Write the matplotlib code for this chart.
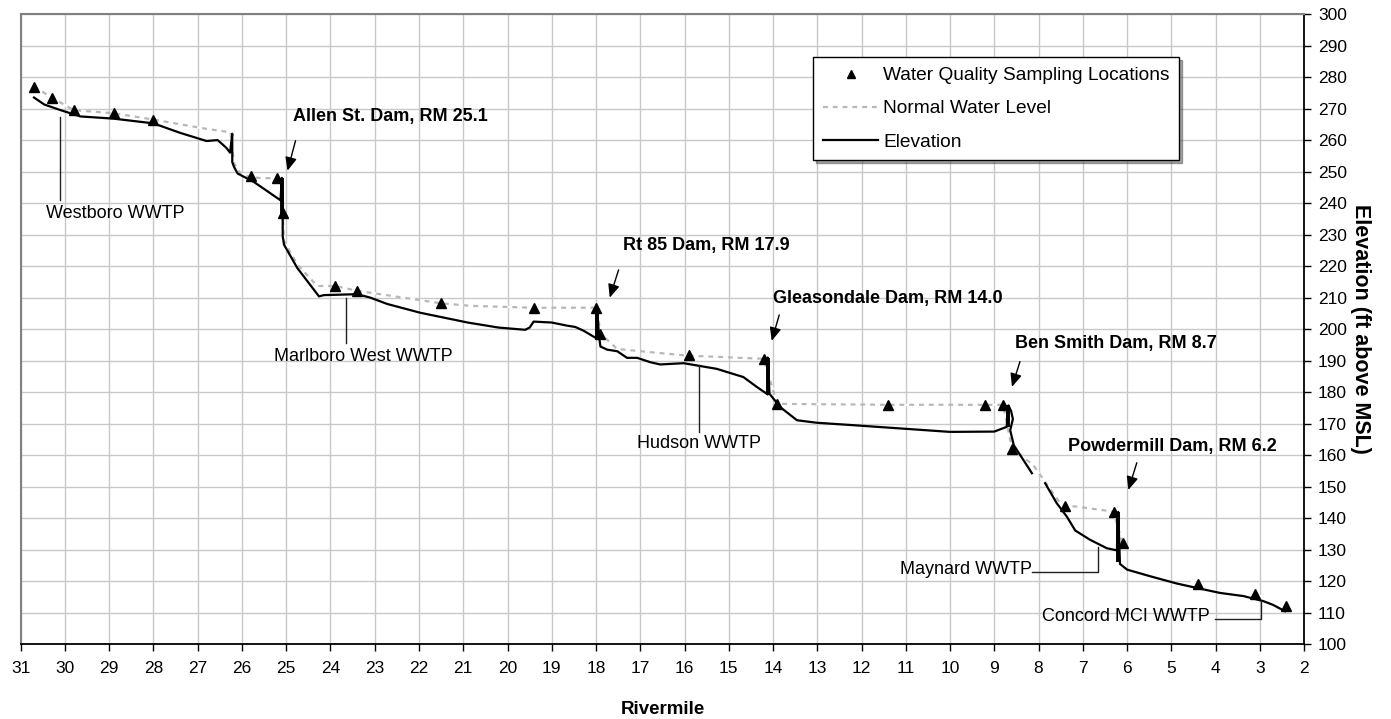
import numpy as np
import matplotlib
matplotlib.use("Agg")
import matplotlib.pyplot as plt

plt.rcParams['font.family'] = ['Liberation Sans', 'DejaVu Sans']

# sampling locations (rivermile, elevation ft)
sample_rm = [30.7, 30.3, 29.8, 28.9, 28.0, 25.8, 25.2, 25.08, 23.9, 23.4, 21.5, 19.4, 18.0,
             17.9, 15.9, 14.2, 13.9, 11.4, 9.2, 8.8, 8.6, 7.4, 6.3, 6.1, 4.4, 3.1, 2.4]
sample_el = [277, 273.5, 269.5, 268.5, 266.5, 248.5, 248, 236.8, 213.8, 212.2, 208.4, 206.8, 206.8,
             198.6, 191.8, 190.6, 176.3, 176, 175.8, 175.8, 162, 144, 142, 132.2, 119, 116, 112]

# normal water level (upper reach drawn grey, lowest reach nearly hidden)
nwl_rm = [30.7, 30.3, 29.8, 28.9, 28.0, 26.78, 26.26, 26.18, 26.03, 25.8, 25.2, 25.1, 25.08, 25.05,
          24.75, 24.3, 23.9, 23.4, 21.5, 20.84, 19.41, 17.98, 17.9, 17.52, 16.77, 15.94, 14.21,
          13.91, 11.4, 9.2, 8.8, 8.64, 8.59, 8.12, 7.78, 7.51, 7.4, 7.14, 6.31, 6.1]
nwl_el = [277, 273.5, 269.5, 268.5, 266.5, 263.5, 262.5, 252.6, 249.4, 248.1, 247.8, 248, 236.8, 228,
          220.5, 213.7, 213.7, 212.2, 208.2, 207.4, 206.8, 206.8, 198.6, 193.7, 192.7, 191.6, 190.6,
          176.3, 176, 176, 176, 164.8, 162, 156.9, 150.1, 144.8, 144, 143.7, 142.1, 132.3]
nwl_low_rm = [6.1, 4.4, 3.1, 2.4]
nwl_low_el = [132.3, 119, 116, 112]

# river bed elevation
elev_rm = [30.70, 30.47, 30.1, 29.65, 28.9, 28.0, 27.4, 26.8, 26.55, 26.35, 26.27, 26.22, 26.22,
           26.18, 26.1, 25.73, 25.13, 25.1, 25.08, 25.08, 25.05, 24.75, 24.26, 24.15, 23.4, 23.1,
           22.72, 21.97, 20.9, 20.2, 19.6, 19.5, 19.41, 19.0, 18.65, 18.47, 18.28, 17.98, 17.98,
           17.93, 17.9, 17.75, 17.52, 17.3, 17.07, 16.77, 16.55, 16.02, 15.27, 14.67, 14.36, 14.12,
           14.12, 14.08, 13.84, 13.46, 13.01, 12.26, 10.0, 9.0, 8.72, 8.68, 8.62, 8.58, 8.64, 8.56,
           8.15, np.nan, 7.85, 7.59, 7.36, 7.17, 6.84, 6.46, 6.23, 6.2, 6.16, 6.0, 5.48, 4.88, 4.43,
           3.90, 3.37, 2.92, 2.7, 2.43]
elev_el = [273.5, 271.3, 269.5, 267.5, 266.8, 265.3, 262.3, 259.7, 260.0, 257.5, 256.0, 262.0, 253.0,
           251.5, 249.4, 246.7, 240.9, 248.0, 240.0, 229.5, 226.8, 219.4, 210.4, 210.8, 211.1, 210.0,
           208.0, 205.2, 202.1, 200.5, 199.8, 200.5, 202.4, 202.1, 201.1, 200.7, 199.5, 197.0, 207.0,
           197.5, 194.5, 193.5, 193.0, 190.9, 190.9, 189.5, 188.8, 189.2, 187.4, 184.8, 181.6, 179.3,
           191.0, 179.5, 175.3, 171.1, 170.3, 169.6, 167.4, 167.5, 169.0, 175.8, 174.0, 171.5, 167.9,
           163.2, 154.3, np.nan, 151.1, 144.8, 140.5, 136.1, 133.2, 130.5, 129.8, 142.0, 125.5, 123.7,
           121.6, 119.3, 117.9, 116.3, 115.3, 113.7, 112.5, 110.5]

# dams
dam_names = ["Allen St. Dam, RM 25.1", "Rt 85 Dam, RM 17.9", "Gleasondale Dam, RM 14.0",
             "Ben Smith Dam, RM 8.7", "Powdermill Dam, RM 6.2"]
dam_rm = [25.1, 17.98, 14.12, 8.69, 6.2]
dam_top = [248, 207, 191, 176, 142]
dam_bot = [236, 197, 179, 169, 126]

# WWTP discharges
wwtp_names = ["Westboro WWTP", "Marlboro West WWTP", "Hudson WWTP", "Maynard WWTP", "Concord MCI WWTP"]
wwtp_rm = [30.11, 23.66, 15.67, 6.65, 2.98]
wwtp_el = [267.4, 209.8, 188.6, 131.0, 113.5]

fig = plt.figure(figsize=(13.91, 7.19), dpi=100)
ax = fig.add_axes([0.0149, 0.1039, 0.9226, 0.8766])

ax.set_xlim(31, 2)
ax.set_ylim(100, 300)
ax.set_xticks(np.arange(2, 32, 1))
ax.set_yticks(np.arange(100, 301, 10))
ax.grid(True, color='#c8c8c8', linewidth=1.0)
ax.set_axisbelow(True)

ax.yaxis.tick_right()
ax.yaxis.set_label_position('right')
ax.tick_params(axis='x', direction='out', length=5, width=1, pad=7, labelsize=12.5)
ax.tick_params(axis='y', direction='out', length=5, width=1, pad=5, labelsize=12.5)
for side in ['top', 'left']:
    ax.spines[side].set_color('#808080')
    ax.spines[side].set_linewidth(1.5)
for side in ['bottom', 'right']:
    ax.spines[side].set_color('black')
    ax.spines[side].set_linewidth(1.3)

ax.set_xlabel('Rivermile', fontsize=13.5, fontweight='bold', labelpad=18)
ax.set_ylabel('Elevation (ft above MSL)', fontsize=15.5, fontweight='bold', rotation=-90,
              labelpad=17)

nwl, = ax.plot(nwl_rm, nwl_el, color='#b8b8b8', linewidth=1.6, linestyle=(0, (2.2, 2.2)),
               gapcolor='white', zorder=3, label='Normal Water Level')
ax.plot(nwl_low_rm, nwl_low_el, color='white', linewidth=1.6, linestyle=(0, (2.2, 2.2)), zorder=3)
el, = ax.plot(elev_rm, elev_el, color='black', linewidth=1.6, zorder=4, label='Elevation')
ax.vlines(dam_rm, dam_bot, dam_top, color='black', linewidth=2.8, zorder=4)
smp, = ax.plot(sample_rm, sample_el, linestyle='none', marker='^', markersize=7.5,
               color='black', zorder=5, label='Water Quality Sampling Locations')

# dam labels: (text x, text y, arrow start x, arrow start y, arrow tip x, arrow tip y)
dam_pos = [(24.84, 267.4, 24.79, 259.8, 24.97, 250.3),
           (17.38, 226.7, 17.49, 218.8, 17.69, 210.0),
           (13.99, 209.8, 13.86, 204.5, 14.03, 196.3),
           (8.53, 195.3, 8.42, 189.7, 8.60, 181.7),
           (7.33, 162.7, 5.78, 157.6, 5.97, 149.0)]
for name, (tx, ty, sx, sy, hx, hy) in zip(dam_names, dam_pos):
    ax.text(tx, ty, name, fontsize=13, fontweight='bold', ha='left', va='center', zorder=6)
    ax.annotate('', xy=(hx, hy), xytext=(sx, sy),
                arrowprops=dict(arrowstyle='-|>,head_length=0.8,head_width=0.35',
                                color='black', lw=1.0, shrinkA=0, shrinkB=0), zorder=6)

# WWTP leaders: vertical drop from river, optional horizontal run to label
lead_el = [241.0, 195.7, 167.5, 122.9, 107.9]
lead_end = [None, None, None, 8.15, 4.01]
text_pos = [(28.87, 236.6, 'center'), (23.26, 191.3, 'center'), (15.67, 163.8, 'center'),
            (8.15, 123.6, 'right'), (4.12, 108.8, 'right')]
for name, x, y0, y1, xe, (tx, ty, ha) in zip(wwtp_names, wwtp_rm, wwtp_el, lead_el, lead_end, text_pos):
    if xe is None:
        ax.plot([x, x], [y0, y1], color='#202020', linewidth=1.0, zorder=4)
    else:
        ax.plot([x, x, xe], [y0, y1, y1], color='#202020', linewidth=1.0, zorder=4)
    ax.text(tx, ty, name, fontsize=13, ha=ha, va='center', zorder=6)

leg = ax.legend(handles=[smp, nwl, el], loc='upper left', bbox_to_anchor=(0.6176, 0.9313),
                fontsize=13.8, frameon=True, fancybox=False, shadow=True, framealpha=1,
                edgecolor='black', handlelength=2.9, handletextpad=0.25, borderpad=0.5,
                labelspacing=0.82, borderaxespad=0, markerscale=0.7)
leg.get_frame().set_linewidth(1.0)
leg.set_zorder(7)

fig.savefig('out.png', dpi=100)
